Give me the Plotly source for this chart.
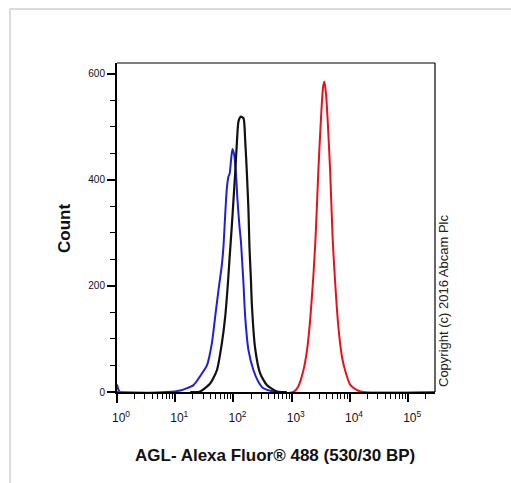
import plotly.graph_objects as go

# ---- data ----
x_tick_vals = [1, 10, 100, 1000, 10000, 100000]
x_tick_text = ["10<sup>0</sup>", "10<sup>1</sup>", "10<sup>2</sup>",
               "10<sup>3</sup>", "10<sup>4</sup>", "10<sup>5</sup>"]
y_tick_vals = [0, 200, 400, 600]
y_tick_text = ["0", "200", "400", "600"]

blue_x = [1.0, 1.12, 7.2, 12.2, 20.6, 26.8, 35.0, 42.6, 48.5, 55.3, 63.2, 67.4,
          72.1, 77.1, 82.1, 86.1, 91.3, 96.1, 102.8, 111.2, 117.1, 126.7, 134.0,
          139.3, 148.4, 158.8, 180.8, 220.3, 268.4, 327.0, 485.5, 712.0]
blue_y = [14, 0, 0, 3, 13, 30, 50, 92, 142, 192, 240, 275,
          335, 385, 406, 412, 440, 458, 447, 406, 362, 312, 285,
          255, 205, 142, 79, 41, 19, 7, 1, 0]

black_x = [18.1, 26.8, 39.8, 51.9, 63.2, 72.1, 80.2, 85.4, 93.9, 100.0, 106.9,
           114.4, 121.9, 134.0, 148.6, 158.8, 169.8, 180.8, 188.0, 198.7, 206.8,
           235.6, 287.0, 374.0, 555.0, 824.0]
black_y = [0, 1, 16, 41, 92, 142, 205, 250, 315, 362, 412,
           470, 510, 519, 516, 475, 412, 343, 274, 215, 165,
           82, 35, 13, 1, 0]

red_x = [1.0, 1069, 1288, 1588, 1836, 2069, 2357, 2570, 2871, 3194, 3459, 3641,
         3892, 4128, 4557, 5033, 5400, 6320, 7325, 8240, 10040, 13090, 16790, 290000]
red_y = [0, 0, 10, 41, 80, 135, 220, 292, 419, 520, 575, 585,
         560, 515, 419, 292, 230, 123, 65, 41, 14, 4, 0, 0]

FONT = "Arial, 'Liberation Sans', sans-serif"

fig = go.Figure()
fig.add_trace(go.Scatter(x=blue_x, y=blue_y, mode="lines",
                         line=dict(color="#1f1fd6", width=2, shape="spline", smoothing=0.6),
                         showlegend=False, hoverinfo="skip"))
fig.add_trace(go.Scatter(x=black_x, y=black_y, mode="lines",
                         line=dict(color="#111111", width=2.2, shape="spline", smoothing=0.6),
                         showlegend=False, hoverinfo="skip"))
fig.add_trace(go.Scatter(x=red_x, y=red_y, mode="lines",
                         line=dict(color="#e8101a", width=2, shape="spline", smoothing=0.6),
                         showlegend=False, hoverinfo="skip"))

L, R, T, B = 117, 76, 63, 91
W, H = 511, 483
pw, ph = W - L - R, H - T - B

def px_x(px):
    return (px - L) / pw

def px_y(py):
    return (H - B - py) / ph

minor_x = [m * 10 ** d for d in range(0, 6) for m in range(2, 10)]

fig.update_layout(
    width=W, height=H,
    margin=dict(l=L, r=R, t=T, b=B),
    paper_bgcolor="white", plot_bgcolor="white",
    font=dict(family=FONT, color="#111111"),
    xaxis=dict(
        type="log", range=[0, 5.46],
        tickmode="array", tickvals=x_tick_vals, ticktext=x_tick_text,
        ticks="outside", ticklen=8, tickwidth=1.6, tickcolor="black",
        tickfont=dict(size=12, family=FONT, color="#111111"),
        ticklabelstandoff=6, ticklabelshift=4,
        minor=dict(tickmode="array", tickvals=minor_x, ticks="outside",
                   ticklen=5, tickwidth=1.2, tickcolor="black"),
        showline=True, linecolor="black", linewidth=1.6,
        showgrid=False, zeroline=False,
    ),
    yaxis=dict(
        range=[0, 620],
        tickmode="array", tickvals=y_tick_vals, ticktext=y_tick_text,
        ticks="outside", ticklen=8, tickwidth=1.6, tickcolor="black",
        tickfont=dict(size=10, family=FONT, color="#111111"),
        minor=dict(tickmode="array", tickvals=[50, 100, 150, 250, 300, 350, 450, 500, 550],
                   ticks="outside", ticklen=5, tickwidth=1.2, tickcolor="black"),
        showline=True, linecolor="black", linewidth=2,
        showgrid=False, zeroline=False,
    ),
    shapes=[
        dict(type="line", xref="paper", yref="paper", x0=0, x1=1, y0=1, y1=1,
             line=dict(color="black", width=1.2)),
        dict(type="line", xref="paper", yref="paper", x0=1, x1=1, y0=0, y1=1,
             line=dict(color="black", width=1.2)),
        dict(type="line", xref="paper", yref="paper", x0=0, x1=0, y0=0, y1=px_y(403),
             line=dict(color="black", width=2)),
        dict(type="line", xref="paper", yref="paper", x0=px_x(10), x1=px_x(10),
             y0=px_y(9), y1=px_y(490), line=dict(color="#dcdcdc", width=2)),
        dict(type="line", xref="paper", yref="paper", x0=px_x(10), x1=px_x(520),
             y0=px_y(9), y1=px_y(9), line=dict(color="#dcdcdc", width=2)),
    ],
    annotations=[
        dict(text="<b>AGL- Alexa Fluor® 488 (530/30 BP)</b>", xref="paper", yref="paper",
             x=px_x(275), y=px_y(455), xanchor="center", yanchor="middle",
             showarrow=False, font=dict(size=17, family=FONT, color="#111111")),
        dict(text="<b>Count</b>", xref="paper", yref="paper",
             x=px_x(64), y=px_y(229), xanchor="center", yanchor="middle", textangle=-90,
             showarrow=False, font=dict(size=17, family=FONT, color="#111111")),
        dict(text="Copyright (c) 2016 Abcam Plc", xref="paper", yref="paper",
             x=px_x(443), y=px_y(301), xanchor="center", yanchor="middle", textangle=-90,
             showarrow=False, font=dict(size=13, family=FONT, color="#222222")),
    ],
)

fig.write_html("out.html", config={"displayModeBar": False},
               post_script="document.body.style.margin='0';document.body.style.overflow='hidden';")
